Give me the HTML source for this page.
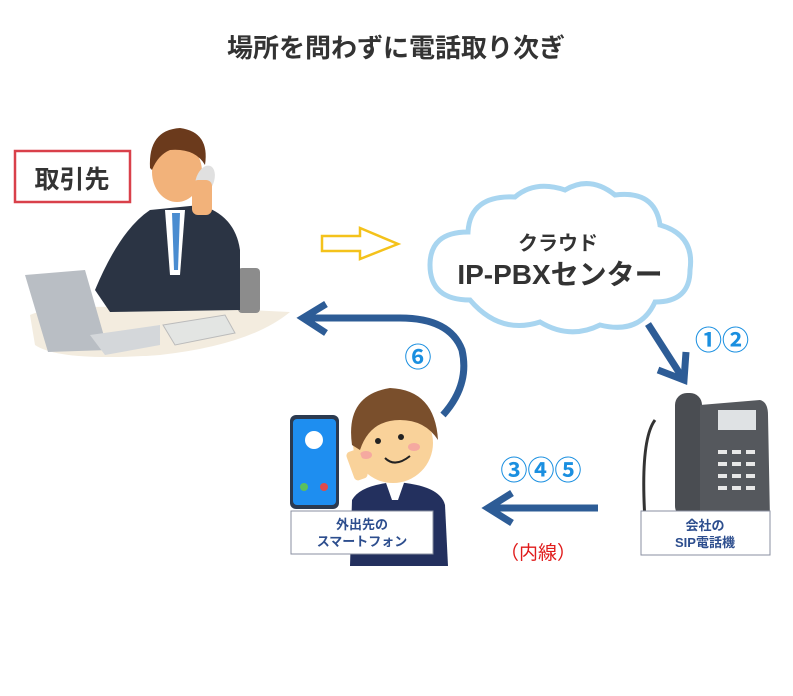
<!DOCTYPE html>
<html><head><meta charset="utf-8"><style>
body{margin:0;background:#fff;}
svg{display:block;font-family:"Liberation Sans","Noto Sans CJK JP",sans-serif;}
</style></head><body>
<svg width="793" height="696" viewBox="0 0 793 696">
<text x="396" y="57" text-anchor="middle" font-size="26" font-weight="bold" fill="#333">場所を問わずに電話取り次ぎ</text>

<!-- desk -->
<path d="M30 315 Q60 300 290 312 Q250 345 160 355 Q60 362 35 345 Z" fill="#f3ecdf"/>
<!-- chair -->
<rect x="238" y="268" width="22" height="45" rx="4" fill="#8c8c8c"/>
<!-- person 1 body -->
<path d="M95 290 Q120 230 150 210 L200 205 Q235 215 240 250 L240 310 L110 312 Z" fill="#2b3444"/>
<path d="M165 210 L185 210 L180 275 L170 275 Z" fill="#fff"/>
<path d="M172 213 L180 213 L178 270 L174 270 Z" fill="#4a8cd0"/>
<ellipse cx="177" cy="172" rx="25" ry="30" fill="#f2b27a"/>
<path d="M150 168 Q148 130 180 128 Q210 132 205 165 Q195 148 170 150 Q158 155 152 170 Z" fill="#6b3a1c"/>
<ellipse cx="205" cy="180" rx="9" ry="15" fill="#e0e0e0" transform="rotate(20 205 180)"/>
<rect x="192" y="180" width="20" height="35" rx="6" fill="#f2b27a"/>
<!-- laptop -->
<path d="M25 275 L85 270 L108 350 L48 352 Z" fill="#b9bec4"/>
<path d="M90 335 L160 325 L160 345 L105 355 Z" fill="#d4d7da"/>
<!-- desk phone -->
<path d="M163 325 L225 315 L235 333 L175 345 Z" fill="#e3e5e3" stroke="#bbb"/>
<!-- 取引先 -->
<rect x="15" y="151" width="115" height="51" fill="#fff" stroke="#d9404a" stroke-width="2.5"/>
<text x="72" y="188" text-anchor="middle" font-size="25" font-weight="bold" fill="#333">取引先</text>

<!-- yellow arrow -->
<path d="M322 236 L360 236 L360 228 L398 244 L360 259 L360 251 L322 251 Z" fill="#fff" stroke="#f4c21b" stroke-width="2.5"/>

<!-- cloud -->
<path d="M470 300 Q430 300 430 265 Q430 232 468 232 Q470 195 515 197 Q535 180 565 190 Q590 175 615 195 Q655 190 660 225 Q695 235 690 270 Q690 302 655 302 Q640 335 600 325 Q570 340 540 322 Q500 335 470 300 Z" fill="#fff" stroke="#a8d5f0" stroke-width="5"/>
<text x="558" y="250" text-anchor="middle" font-size="20" font-weight="bold" fill="#333">クラウド</text>
<text x="560" y="284" text-anchor="middle" font-size="28" font-weight="bold" fill="#333">IP-PBXセンター</text>

<!-- arrow 1 -->
<g stroke="#2d5c96" stroke-width="7" fill="none" stroke-linejoin="miter">
<line x1="648" y1="324" x2="682" y2="377"/>
<polyline points="658,370 684,380 686,352"/>
</g>
<text x="722" y="350" text-anchor="middle" font-size="27" font-weight="bold" fill="#1a8fe0">①②</text>

<!-- arrow 6 -->
<g stroke="#2d5c96" stroke-width="7" fill="none">
<path d="M443 415 Q470 385 462 350 Q450 318 400 318 L302 318"/>
<polyline points="326,304 303,318 326,333"/>
</g>
<text x="418" y="367" text-anchor="middle" font-size="27" font-weight="bold" fill="#1a8fe0">⑥</text>

<!-- arrow 345 -->
<g stroke="#2d5c96" stroke-width="7" fill="none">
<line x1="598" y1="508" x2="488" y2="508"/>
<polyline points="512,493 488,508 512,523"/>
</g>
<text x="541" y="480" text-anchor="middle" font-size="27" font-weight="bold" fill="#1a8fe0">③④⑤</text>
<text x="538" y="559" text-anchor="middle" font-size="19" fill="#e01b1b">（内線）</text>

<!-- SIP phone -->
<path d="M655 420 Q640 440 645 520" stroke="#333" stroke-width="3" fill="none"/>
<rect x="675" y="393" width="27" height="125" rx="12" fill="#4a4d52"/>
<path d="M700 405 L760 400 Q768 402 768 415 L770 520 L700 520 Z" fill="#55585d"/>
<rect x="718" y="410" width="38" height="20" fill="#dfe2e4"/>
<g fill="#e8e8e8">
<rect x="718" y="450" width="9" height="4"/><rect x="732" y="450" width="9" height="4"/><rect x="746" y="450" width="9" height="4"/>
<rect x="718" y="462" width="9" height="4"/><rect x="732" y="462" width="9" height="4"/><rect x="746" y="462" width="9" height="4"/>
<rect x="718" y="474" width="9" height="4"/><rect x="732" y="474" width="9" height="4"/><rect x="746" y="474" width="9" height="4"/>
<rect x="718" y="486" width="9" height="4"/><rect x="732" y="486" width="9" height="4"/><rect x="746" y="486" width="9" height="4"/>
</g>
<rect x="641" y="511" width="129" height="44" fill="#fff" stroke="#8a8fa0" stroke-width="1"/>
<text x="705" y="530" text-anchor="middle" font-size="13" font-weight="bold" fill="#2d4e8e">会社の</text>
<text x="705" y="547" text-anchor="middle" font-size="13" font-weight="bold" fill="#2d4e8e">SIP電話機</text>

<!-- person 2 -->
<path d="M350 566 L352 500 Q360 485 395 482 Q440 485 445 505 L448 566 Z" fill="#23305e"/>
<path d="M385 480 L405 480 L398 500 L392 500 Z" fill="#fff"/>
<ellipse cx="393" cy="443" rx="40" ry="40" fill="#f9d29a"/>
<path d="M352 445 Q345 395 390 388 Q435 390 438 440 Q425 420 400 420 Q370 420 360 450 Z" fill="#7a4f2c"/>
<circle cx="378" cy="441" r="3" fill="#222"/><circle cx="401" cy="437" r="3" fill="#222"/>
<path d="M385 458 Q395 468 410 456" stroke="#222" stroke-width="2" fill="none"/>
<ellipse cx="366" cy="455" rx="6" ry="4" fill="#f5a9a0"/><ellipse cx="414" cy="447" rx="6" ry="4" fill="#f5a9a0"/>
<rect x="350" y="450" width="14" height="30" rx="4" fill="#f9d29a" transform="rotate(-20 357 465)"/>
<!-- smartphone -->
<rect x="290" y="415" width="49" height="94" rx="6" fill="#2b3a50"/>
<rect x="293" y="419" width="43" height="86" rx="4" fill="#1e8ef0"/>
<circle cx="314" cy="440" r="9" fill="#fff"/>
<circle cx="304" cy="487" r="4" fill="#5cc05c"/><circle cx="324" cy="487" r="4" fill="#e04a4a"/>
<rect x="291" y="511" width="142" height="43" fill="#fff" stroke="#8a8fa0" stroke-width="1"/>
<text x="362" y="529" text-anchor="middle" font-size="13" font-weight="bold" fill="#2d4e8e">外出先の</text>
<text x="362" y="546" text-anchor="middle" font-size="13" font-weight="bold" fill="#2d4e8e">スマートフォン</text>
</svg>
</body></html>
